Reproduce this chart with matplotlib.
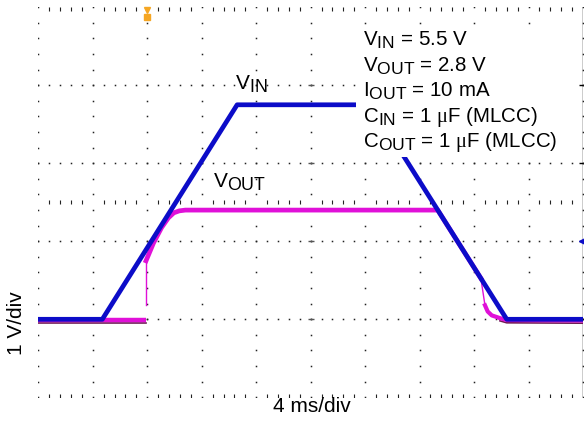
import matplotlib as mpl
mpl.use('Agg')
import matplotlib.pyplot as plt
import matplotlib._mathtext as mathtext
from matplotlib.patches import Rectangle
import numpy as np

mpl.rc('font', family='Liberation Sans', size=13)
mpl.rcParams['mathtext.fontset'] = 'custom'
mpl.rcParams['mathtext.rm'] = 'Liberation Sans'
mpl.rcParams['mathtext.it'] = 'Liberation Serif'
# scope-style subscripts are only slightly smaller than the body text
mathtext.SHRINK_FACTOR = 0.85

# scope settings: 4 ms/div, 1 V/div (grid drawn every 2 V)
T_SPAN = 40.0
V_MIN, V_MAX = -2.0, 8.0

# input supply ramp (ms, V)
vin_t = [0.0, 4.7, 14.6, 24.45, 34.4, 40.0]
vin_v = [0.0, 0.0, 5.5, 5.5, 0.0, 0.0]

# output before enable
vout_off_t = [0.0, 7.91]
vout_off_v = [-0.03, -0.03]
# fast edge at turn-on (thin, few samples)
vout_jump_t = [7.91, 7.91]
vout_jump_v = [0.36, 1.5]
# regulated output following the input, then tracking it down
vout_on_t = [7.91, 8.45, 9.05, 9.55, 9.95, 10.35, 10.8, 29.33, 32.5]
vout_on_v = [1.5, 1.95, 2.35, 2.6, 2.73, 2.78, 2.8, 2.8, 1.05]
# discharge at turn-off
vout_fall_t = [32.5, 32.8]
vout_fall_v = [1.05, 0.36]
vout_tail_t = [32.8, 33.0, 33.3, 33.9, 34.4, 40.0]
vout_tail_v = [0.36, 0.2, 0.1, 0.03, -0.02, -0.03]

notes = [r'V$_{\rm IN}$ = 5.5 V',
         r'V$_{\rm OUT}$ = 2.8 V',
         r'I$_{\rm OUT}$ = 10 mA',
         r'C$_{\rm IN}$ = 1 $\mu$F (MLCC)',
         r'C$_{\rm OUT}$ = 1 $\mu$F (MLCC)']

BLUE = '#0c0cc8'
MAGENTA = '#e010d8'
SHADOW = '#6e1a55'
DOT = '#222222'


def draw_graticule(ax):
    """Dotted scope graticule with minor ticks on the edge/centre lines"""
    x_major = np.arange(0, T_SPAN + 0.1, 4.0)
    x_minor = np.arange(0, T_SPAN + 0.1, 0.8)
    y_minor = np.arange(V_MIN, V_MAX + 0.01, 0.4)
    for x in x_major:
        ax.plot(np.full_like(y_minor, x), y_minor, ls='none', marker='s',
                ms=1.1, mew=0, color=DOT, zorder=1)
    for y in [0.0, 2.0, 4.0, 6.0]:
        ax.plot(x_minor, np.full_like(x_minor, y), ls='none', marker='s',
                ms=1.1, mew=0, color=DOT, zorder=1)
    xm = np.array([x for x in x_minor if abs(x / 4.0 - round(x / 4.0)) > 0.01])
    for y in [V_MIN + 0.04, 3.0, V_MAX - 0.04]:
        ax.plot(xm, np.full_like(xm, y), ls='none', marker='|', ms=3.5,
                mew=0.8, color=DOT, zorder=1)
    # centre column marks and right edge
    ax.plot(np.full(4, 20.0), [0, 2, 4, 6], ls='none', marker='_', ms=5,
            mew=1.0, color='#555555', zorder=1)
    ax.axvline(T_SPAN - 0.02, color='black', lw=1.0, zorder=1)
    ax.plot(np.full(4, T_SPAN - 0.15), [0, 2, 4, 6], ls='none', marker='_',
            ms=3, mew=1.0, color='black', zorder=1)


def main():
    fig = plt.figure(figsize=(5.84, 4.21), dpi=100)
    ax = fig.add_axes([0.0656, 0.0563, 0.9327, 0.9264])
    ax.set_xlim(0, T_SPAN)
    ax.set_ylim(V_MIN, V_MAX)
    ax.set_xticks([])
    ax.set_yticks([])
    for sp in ax.spines.values():
        sp.set_visible(False)

    draw_graticule(ax)

    # dark under-trace of the output channel
    ax.plot(vout_off_t, np.array(vout_off_v) - 0.07, color=SHADOW, lw=1.2, zorder=2)
    ax.plot(vout_tail_t[3:], np.array(vout_tail_v[3:]) - 0.07, color=SHADOW, lw=1.2, zorder=2)

    ax.plot(vout_off_t, vout_off_v, color=MAGENTA, lw=3.2, zorder=3,
            solid_capstyle='butt')
    ax.plot(vout_jump_t, vout_jump_v, color=MAGENTA, lw=1.0, zorder=3)
    ax.plot(vout_on_t, vout_on_v, color=MAGENTA, lw=3.4, zorder=3,
            solid_joinstyle='round')
    ax.plot(vout_fall_t, vout_fall_v, color=MAGENTA, lw=1.0, zorder=3)
    ax.plot(vout_tail_t, vout_tail_v, color=MAGENTA, lw=3.0, zorder=3,
            solid_joinstyle='round')

    ax.plot(vin_t, vin_v, color=BLUE, lw=3.4, zorder=4, solid_joinstyle='round')

    # channel / trigger markers
    ax.plot([8.0], [7.93], marker='v', ms=5, color='#f5a623', ls='none',
            clip_on=False, zorder=6)
    ax.plot([8.0], [7.75], marker='s', ms=4.5, color='#f5a623', ls='none',
            clip_on=False, zorder=6)
    ax.plot([T_SPAN], [2.0], marker='<', ms=6, color=BLUE, ls='none', zorder=6)

    # conditions block, drawn over the traces
    ax.add_patch(Rectangle((23.33, 4.15), 16.0, 3.27, facecolor='white',
                           edgecolor='none', zorder=7))
    for i, line in enumerate(notes):
        ax.text(23.82, 7.03 - i * 0.655, line, fontsize=14.8, ha='left',
                va='baseline', zorder=8)

    ax.text(14.45, 5.9, r'V$_{\rm IN}$', fontsize=15, ha='left', va='baseline', zorder=8)
    ax.text(12.83, 3.38, r'V$_{\rm OUT}$', fontsize=15, ha='left', va='baseline', zorder=8)

    fig.text(17 / 584., 1 - 323 / 421., '1 V/div', rotation=90, fontsize=15,
             ha='center', va='center')
    fig.text(312 / 584., 1 - 407 / 421., '4 ms/div', fontsize=15,
             ha='center', va='center')

    fig.savefig('out.png', dpi=100)


if __name__ == '__main__':
    main()
